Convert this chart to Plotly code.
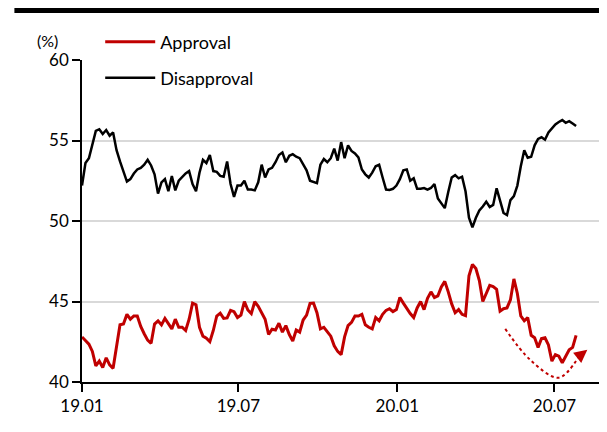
import pandas as pd
import plotly.graph_objects as go

# sampled every 4 days from 2019-01-01
dates = pd.date_range("2019-01-01", periods=144, freq="4D")

approval = [
    42.8, 42.55, 42.35, 41.9, 41.0, 41.3, 40.9, 41.5, 41.06, 40.85,
    42.3, 43.55, 43.6, 44.2, 43.9, 44.1, 44.1, 43.45, 43.0, 42.6,
    42.4, 43.6, 43.8, 43.55, 43.95, 43.6, 43.3, 43.9, 43.4, 43.4,
    43.2, 43.9, 44.9, 44.8, 43.4, 42.85, 42.72, 42.5, 43.2, 44.1,
    44.27, 43.95, 43.98, 44.45, 44.37, 44.0, 44.16, 45.0, 44.47, 44.25,
    44.99, 44.7, 44.28, 43.9, 42.95, 43.28, 43.23, 43.65, 43.1, 43.5,
    42.95, 42.55, 43.23, 43.1, 43.85, 44.15, 44.88, 44.9, 44.3, 43.3,
    43.4, 43.1, 42.85, 42.25, 41.9, 41.7, 42.8, 43.5, 43.7, 44.1,
    44.1, 44.2, 43.55, 43.4, 43.3, 44.0, 43.8, 44.2, 44.45, 44.55,
    44.37, 44.5, 45.25, 44.9, 44.55, 44.25, 44.0, 44.6, 45.0, 44.5,
    45.2, 45.6, 45.25, 45.35, 45.9, 46.25, 45.6, 44.85, 44.3, 44.5,
    44.2, 44.12, 46.6, 47.3, 47.05, 46.3, 45.0, 45.5, 46.0, 45.92,
    45.75, 44.4, 44.55, 44.6, 45.1, 46.4, 45.5, 44.1, 43.8, 44.0,
    42.9, 42.75, 42.15, 42.7, 42.75, 42.3, 41.3, 41.7, 41.6, 41.2,
    41.6, 42.0, 42.15, 42.9,
]

disapproval = [
    52.2, 53.6, 53.9, 54.7, 55.6, 55.7, 55.4, 55.65, 55.3, 55.5,
    54.4, 53.7, 53.0, 52.45, 52.6, 52.95, 53.2, 53.3, 53.5, 53.8,
    53.45, 52.9, 51.7, 52.4, 52.6, 51.85, 52.8, 51.9, 52.5, 52.75,
    52.95, 53.1, 52.3, 51.85, 53.0, 53.8, 53.6, 54.1, 53.1, 53.05,
    52.8, 52.75, 53.7, 52.3, 51.5, 52.2, 52.2, 52.5, 51.95, 51.95,
    51.9, 52.4, 53.5, 52.7, 53.2, 53.3, 53.65, 54.1, 54.25, 53.65,
    54.05, 54.15, 53.99, 53.9, 53.5, 53.15, 52.5, 52.4, 52.35, 53.5,
    53.85, 53.65, 53.9, 54.5, 53.75, 54.9, 53.9, 54.7, 54.35, 54.2,
    53.95, 53.2, 52.9, 52.7, 53.0, 53.4, 53.5, 52.7, 51.95, 51.93,
    52.0, 52.2, 52.6, 53.15, 53.2, 52.5, 52.65, 52.0, 52.0, 52.05,
    51.95, 52.05, 52.3, 51.4, 51.1, 50.8, 51.8, 52.7, 52.85, 52.65,
    52.75, 51.85, 50.2, 49.6, 50.2, 50.65, 50.9, 51.2, 50.87, 51.0,
    52.03, 51.3, 50.5, 50.37, 51.3, 51.55, 52.2, 53.4, 54.4, 53.93,
    53.99, 54.7, 55.1, 55.2, 55.05, 55.5, 55.75, 56.0, 56.15, 56.27,
    56.1, 56.2, 56.05, 55.9,
]

# dotted trend guide near the end
guide_dates = ["2020-05-05", "2020-06-03", "2020-07-06", "2020-07-29"]
guide_vals = [43.3, 41.37, 40.27, 41.57]

tick_vals = ["2019-01-01", "2019-07-01", "2020-01-01", "2020-07-01"]
tick_text = ["19.01", "19.07", "20.01", "20.07"]

RED = "#c00000"
FONT = "Lato"

fig = go.Figure()

fig.add_trace(
    go.Scatter(
        x=dates, y=approval, mode="lines", name="Approval",
        line=dict(color=RED, width=3), legend="legend",
    )
)
fig.add_trace(
    go.Scatter(
        x=dates, y=disapproval, mode="lines", name="Disapproval",
        line=dict(color="black", width=2.5), legend="legend2",
    )
)
fig.add_trace(
    go.Scatter(
        x=guide_dates, y=guide_vals, mode="lines", showlegend=False,
        line=dict(color=RED, width=2, dash="dot", shape="spline"),
        hoverinfo="skip",
    )
)

fig.add_annotation(
    x="2020-08-08", y=42.0, ax="2020-07-29", ay=41.57,
    xref="x", yref="y", axref="x", ayref="y",
    text="", showarrow=True, arrowhead=2, arrowsize=1.3,
    arrowwidth=2, arrowcolor=RED,
)
fig.add_annotation(
    x=-0.067, y=1.062, xref="paper", yref="paper", text="(%)",
    xanchor="center", yanchor="middle",
    showarrow=False, font=dict(size=16, color="black", family=FONT),
)

# thick rule across the top
fig.add_shape(
    type="line", xref="paper", yref="paper",
    x0=-0.13, x1=1.02, y0=1.154, y1=1.154,
    line=dict(color="black", width=5),
)

fig.update_xaxes(
    range=["2019-01-01", "2020-08-25"],
    tickvals=tick_vals, ticktext=tick_text,
    showgrid=False, showline=True, linecolor="black", linewidth=1.5,
    ticks="outside", ticklen=8, tickcolor="black", tickwidth=1.5,
    tickfont=dict(size=17, color="black", family=FONT),
)
fig.update_yaxes(
    range=[40, 60], dtick=5,
    showgrid=True, gridcolor="#d9d9d9", gridwidth=1.5,
    showline=True, linecolor="black", linewidth=1.5,
    ticks="outside", ticklen=8, tickcolor="black", tickwidth=1.5,
    tickfont=dict(size=17, color="black", family=FONT),
    zeroline=False,
)

legend_style = dict(
    xref="paper", yref="paper", x=0.035, yanchor="middle", itemwidth=50,
    bgcolor="rgba(0,0,0,0)", font=dict(size=18, color="black", family=FONT),
)
fig.update_layout(
    width=599, height=424,
    margin=dict(l=74, r=5, t=52, b=50),
    plot_bgcolor="white", paper_bgcolor="white",
    legend=dict(y=1.056, **legend_style),
    legend2=dict(y=0.944, **legend_style),
)

fig.write_html("out.html")
